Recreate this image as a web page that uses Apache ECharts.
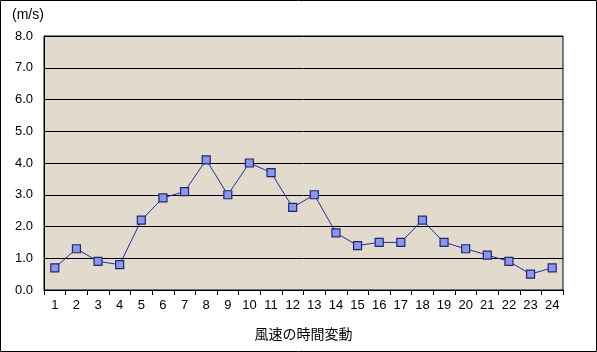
<!DOCTYPE html>
<html><head><meta charset="utf-8">
<script src="https://cdn.jsdelivr.net/npm/echarts@6/dist/echarts.min.js"></script>
<style>html,body{margin:0;padding:0;background:#fff}#c{width:597px;height:352px}</style>
</head><body><div id="c"></div>
<script>
const hours = ['1','2','3','4','5','6','7','8','9','10','11','12','13','14','15','16','17','18','19','20','21','22','23','24'];
const windSpeed = [0.7,1.3,0.9,0.8,2.2,2.9,3.1,4.1,3.0,4.0,3.7,2.6,3.0,1.8,1.4,1.5,1.5,2.2,1.5,1.3,1.1,0.9,0.5,0.7];
const yMin = 0, yMax = 8, yStep = 1;
const unitLabel = '(m/s)';
const xTitle = '風速の時間変動';

const font = '"Liberation Sans", "Noto Sans CJK JP", sans-serif';
const jfont = '"Noto Sans CJK JP", sans-serif';
const chart = echarts.init(document.getElementById('c'), null, {renderer:'canvas'});
chart.setOption({
  animation:false,
  backgroundColor:'#ffffff',
  graphic:[
    {type:'rect', shape:{x:0.5,y:0.5,width:596,height:351}, style:{fill:'none',stroke:'#000',lineWidth:1}, z:100},
    {type:'text', left:12, top:8, style:{text:unitLabel, font:'14px '+font, fill:'#000'}}
  ],
  grid:{left:44,right:34,top:36,bottom:62, show:true, backgroundColor:'#e2dacd', borderColor:'#000', borderWidth:1},
  xAxis:{
    type:'category', data:hours, boundaryGap:true,
    name:xTitle, nameLocation:'middle', nameGap:37,
    nameTextStyle:{fontSize:14, fontFamily:jfont, color:'#000'},
    axisLine:{lineStyle:{color:'#000',width:1}},
    axisTick:{show:true, alignWithLabel:false, length:5, lineStyle:{color:'#000'}},
    axisLabel:{fontSize:13, fontFamily:font, color:'#000', margin:9}
  },
  yAxis:{
    type:'value', min:yMin, max:yMax, interval:yStep,
    axisLine:{show:true, lineStyle:{color:'#000'}},
    axisTick:{show:false},
    axisLabel:{fontSize:13, fontFamily:font, color:'#000', margin:11, formatter:v=>v.toFixed(1)},
    splitLine:{show:true, lineStyle:{color:'#000',width:1}}
  },
  series:[{
    type:'line', data:windSpeed,
    symbol:'rect', symbolSize:8,
    lineStyle:{color:'#2a2a9a', width:1},
    itemStyle:{color:'#8c95ef', borderColor:'#1b2a6e', borderWidth:1.2}
  }]
});
</script></body></html>
